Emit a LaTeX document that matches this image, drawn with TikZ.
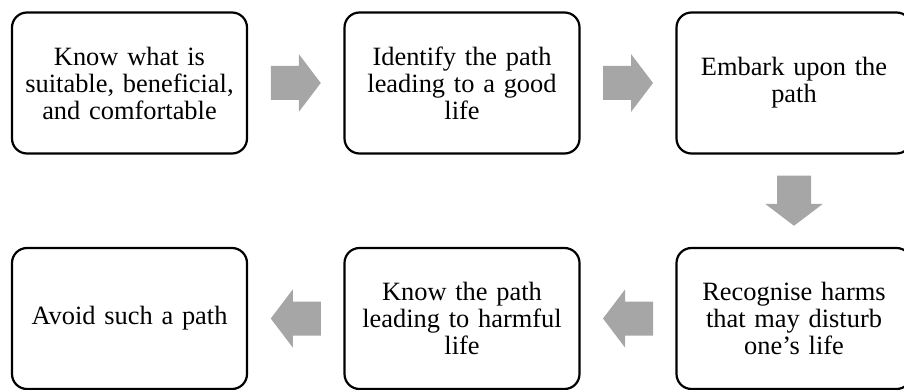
\documentclass[tikz,border=0pt]{standalone}
\usepackage{fontspec}
\setmainfont{Liberation Serif}
\usetikzlibrary{calc}
\definecolor{arrowgray}{HTML}{A6A6A6}
\begin{document}
\begin{tikzpicture}[x=1pt,y=-1pt,
  stepbox/.style={draw=black, line width=2.2pt, rounded corners=15pt,
    minimum width=235pt, minimum height=141pt, text width=225pt,
    align=center, inner sep=0pt, font=\fontsize{26.4}{27}\selectfont},
  blockarrow/.style={fill=arrowgray, draw=none}]
\useasboundingbox (0,0) rectangle (904,390);
\clip (0,0) rectangle (904,390);
\node[stepbox] (b1) at (129.5,83) {Know what is\\suitable, beneficial,\\and comfortable};
\node[stepbox] (b2) at (462,83) {Identify the path\\leading to a good\\life};
\node[stepbox] (b3) at (794,83) {Embark upon the\\path};
\node[stepbox] (b4) at (794,318.5) {Recognise harms\\that may disturb\\one’s life};
\node[stepbox] (b5) at (462,318.5) {Know the path\\leading to harmful\\life};
\node[stepbox] (b6) at (129.5,318.5) {Avoid such a path};
\def\arrowpath{(-25,-17) -- (3,-17) -- (3,-29) -- (25,0) -- (3,29) -- (3,17) -- (-25,17) -- cycle}
\fill[blockarrow, shift={($(b1.east)!0.5!(b2.west)$)}] \arrowpath;
\fill[blockarrow, shift={($(b2.east)!0.5!(b3.west)$)}] \arrowpath;
\fill[blockarrow, shift={($(b3.south)!0.5!(b4.north)$)}, rotate=-90] \arrowpath;
\fill[blockarrow, shift={($(b4.west)!0.5!(b5.east)$)}, rotate=180] \arrowpath;
\fill[blockarrow, shift={($(b5.west)!0.5!(b6.east)$)}, rotate=180] \arrowpath;
\end{tikzpicture}
\end{document}
